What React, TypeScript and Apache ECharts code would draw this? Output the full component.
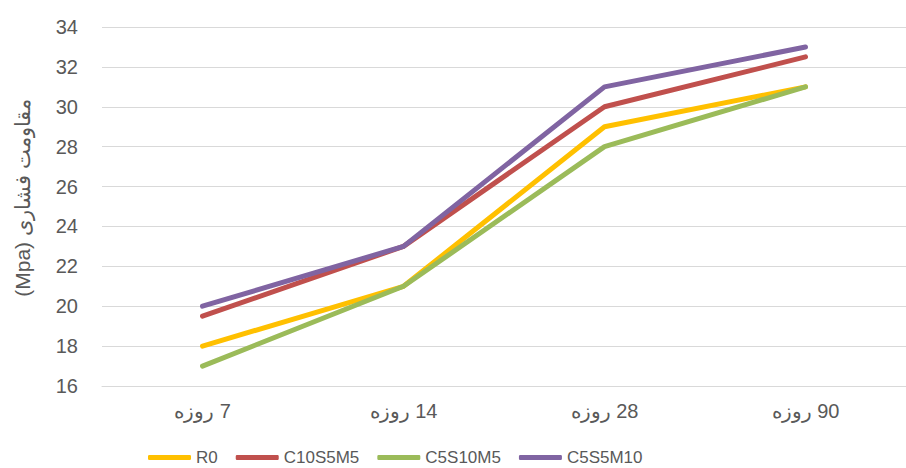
import React, { useEffect, useRef } from "react";
import * as echarts from "echarts";

const categories = ["7 روزه", "14 روزه", "28 روزه", "90 روزه"];
const seriesNames = ["R0", "C10S5M5", "C5S10M5", "C5S5M10"];
const r0 = [18, 21, 29, 31];
const c10s5m5 = [19.5, 23, 30, 32.5];
const c5s10m5 = [17, 21, 28, 31];
const c5s5m10 = [20, 23, 31, 33];
const colors = ["#FFC000", "#C0504D", "#9BBB59", "#8064A2"];
const yTitle = "مقاومت فشاری (Mpa)";

const RLE = "\u202B";
const PDF = "\u202C";

export default function App() {
  const ref = useRef<HTMLDivElement>(null);
  useEffect(() => {
    if (!ref.current) return;
    const chart = echarts.init(ref.current, undefined, { renderer: "svg" });
    const font = "'Liberation Sans', Arial, sans-serif";
    const data = [r0, c10s5m5, c5s10m5, c5s5m10];
    chart.setOption({
      animation: false,
      backgroundColor: "#ffffff",
      textStyle: { fontFamily: font },
      grid: { left: 102, width: 806, top: 27, bottom: 82 },
      graphic: [
        {
          type: "text",
          x: 22,
          y: 198,
          rotation: Math.PI / 2,
          style: {
            text: RLE + yTitle + PDF,
            fontSize: 21,
            fontFamily: font,
            fill: "#595959",
            align: "center",
            verticalAlign: "middle",
          },
        },
      ],
      legend: {
        top: 444,
        left: 143,
        icon: "roundRect",
        itemWidth: 43,
        itemHeight: 5,
        itemGap: 18,
        textStyle: { color: "#595959", fontSize: 17, fontFamily: font },
        data: seriesNames,
      },
      xAxis: {
        type: "category",
        data: categories,
        boundaryGap: true,
        axisLine: { lineStyle: { color: "#d9d9d9", width: 1 } },
        axisTick: { show: false },
        axisLabel: {
          color: "#595959",
          fontSize: 20,
          margin: 15,
          formatter: (v: string) => RLE + v + PDF,
        },
      },
      yAxis: {
        type: "value",
        min: 16,
        max: 34,
        interval: 2,
        axisLine: { show: false },
        axisTick: { show: false },
        axisLabel: { color: "#595959", fontSize: 20, margin: 24 },
        splitLine: { lineStyle: { color: "#d9d9d9", width: 1 } },
      },
      series: seriesNames.map((n, i) => ({
        name: n,
        type: "line",
        data: data[i],
        symbol: "none",
        color: colors[i],
        lineStyle: { width: 5, color: colors[i], cap: "round", join: "round" },
      })),
    });
    return () => chart.dispose();
  }, []);
  return (
    <div
      ref={ref}
      style={{ position: "fixed", left: 0, top: 0, width: 906, height: 468 }}
    />
  );
}
